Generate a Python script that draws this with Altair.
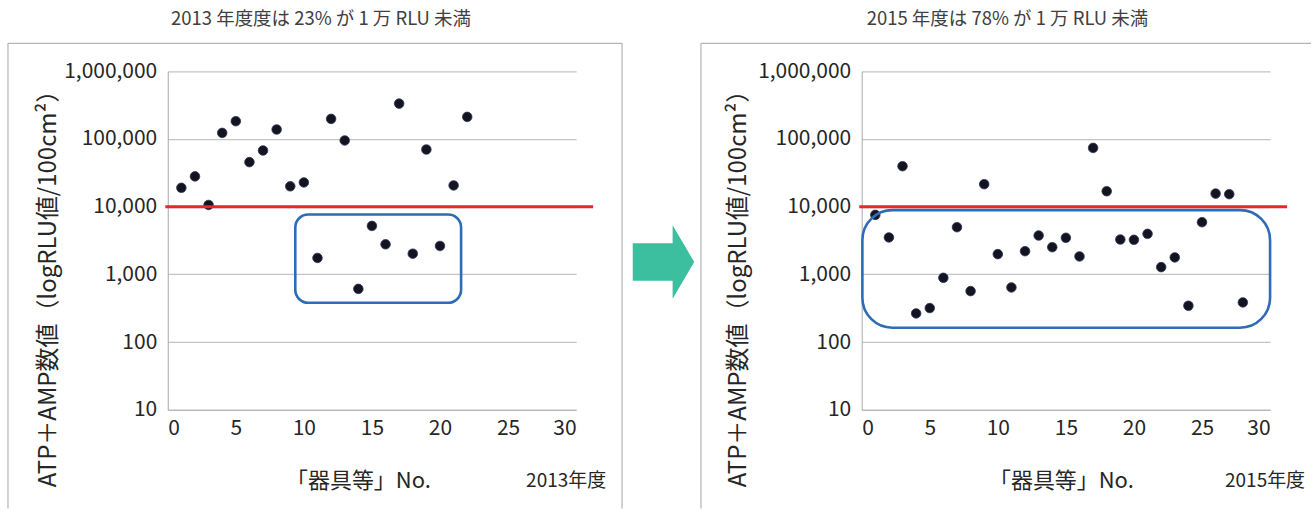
import altair as alt
import pandas as pd

# ATP+AMP readings (RLU / 100 cm2) per utensil number, FY2013 and FY2015
no_2013 = list(range(1, 23))
rlu_2013 = [19000, 28000, 10600, 123000, 183000, 45500, 67600, 138000, 20000, 22800,
            1750, 198000, 95000, 610, 5200, 2780, 333000, 2020, 69900, 2630,
            20600, 212000]

no_2015 = list(range(1, 29))
rlu_2015 = [7570, 3510, 39600, 265, 318, 890, 4980, 566, 21500, 1990,
            641, 2200, 3750, 2520, 3470, 1840, 73800, 16900, 3270, 3240,
            3970, 1280, 1780, 344, 5900, 15600, 15300, 385]

# highlighted groups: [x_start, x_end, rlu_low, rlu_high]
box_2013 = [9.37, 21.55, 380, 7670]
box_2015 = [0.05, 30.0, 163, 8880]

threshold = 10000
x_ticks = [0, 5, 10, 15, 20, 25, 30]
y_ticks = [10, 100, 1000, 10000, 100000, 1000000]

header_2013 = "2013 年度度は 23% が 1 万 RLU 未満"
header_2015 = "2015 年度は 78% が 1 万 RLU 未満"
y_title = "ATP＋AMP数値（logRLU値/100cm²）"
x_title = "「器具等」No."

FONT = "Noto Sans CJK JP"
PLOT_W, PLOT_H = 409, 339
GRID = "#c4c4c4"
FRAME = "#b4b4b4"

x_scale = alt.Scale(domain=[0, 30], nice=False, zero=False)
y_scale = alt.Scale(type="log", domain=[10, 1000000], nice=False)

one = pd.DataFrame({"k": [0]})


def txt(text, x, y, size, color="#262626", angle=0):
    return alt.Chart(one).mark_text(
        text=text, font=FONT, fontSize=size, color=color, angle=angle,
        align="center", baseline="middle"
    ).encode(x=alt.value(x), y=alt.value(y))


def vline(x, y1, y2, color=FRAME, width=1.2):
    return alt.Chart(one).mark_rule(color=color, strokeWidth=width).encode(
        x=alt.value(x), y=alt.value(y1), y2=alt.value(y2))


def hline(x1, x2, y, color=FRAME, width=1.2):
    return alt.Chart(one).mark_rule(color=color, strokeWidth=width).encode(
        x=alt.value(x1), x2=alt.value(x2), y=alt.value(y))


def panel(no, rlu, box, radius, header, year, hx, tx, yx, xx):
    pts = pd.DataFrame({"no": no, "rlu": rlu})
    scatter = alt.Chart(pts).mark_circle(
        size=92, color="#141420", opacity=1, stroke="#2c3658", strokeWidth=0.8
    ).encode(
        x=alt.X("no:Q", scale=x_scale, axis=alt.Axis(
            values=x_ticks, title=None, grid=False, ticks=False,
            domainColor="#b0b0b0", labelPadding=8,
            labelFont=FONT, labelFontSize=21, labelColor="#262626")),
        y=alt.Y("rlu:Q", scale=y_scale, axis=alt.Axis(
            values=y_ticks, format=",", title=None, grid=True, gridColor=GRID,
            gridWidth=1.2, ticks=False, domainColor="#a8a8a8", labelPadding=11,
            labelFont=FONT, labelFontSize=21, labelColor="#262626")),
    )

    bx = pd.DataFrame({"x1": [box[0]], "x2": [box[1]], "y1": [box[2]], "y2": [box[3]]})
    frame_box = alt.Chart(bx).mark_rect(
        fillOpacity=0, stroke="#2e6cb6", strokeWidth=2.6, cornerRadius=radius
    ).encode(
        x=alt.X("x1:Q", scale=x_scale), x2="x2:Q",
        y=alt.Y("y1:Q", scale=y_scale), y2="y2:Q",
    )

    ln = pd.DataFrame({"x1": [-0.18], "x2": [31.25], "v": [threshold]})
    red = alt.Chart(ln).mark_rule(color="#e8262b", strokeWidth=3).encode(
        x=alt.X("x1:Q", scale=x_scale), x2="x2:Q",
        y=alt.Y("v:Q", scale=y_scale),
    )

    texts = [
        txt(header, hx, -52, 18.5, color="#404040"),
        txt(y_title, yx, 212, 24, angle=270),
        txt(x_title, xx, 410, 22),
        txt(year, tx, 410, 19),
    ]
    return [scatter, frame_box, red] + texts


# left panel: plot area starts at canvas (167, 70)
# an invisible sheet spanning the page keeps the layout anchored at (0, 0)
sheet = alt.Chart(one).mark_rect(color="white", opacity=0).encode(
    x=alt.value(-167), x2=alt.value(1147), y=alt.value(-70), y2=alt.value(440))
left_frame = [
    hline(-160, 455, -28),
    vline(-160, -28, 438),
    vline(455, -28, 438),
]
# arrow between the two panels
arrow = alt.Chart(one).mark_point(
    shape="M-0.836,-0.51 L0.248,-0.51 L0.248,-1 L0.836,0 L0.248,1 L0.248,0.51 L-0.836,0.51 Z",
    size=5430, filled=True, color="#3bbf9f", opacity=1, strokeWidth=0
).encode(x=alt.value(496.5), y=alt.value(191))

left = alt.layer(
    sheet, *left_frame, arrow,
    *panel(no_2013, rlu_2013, box_2013, 13, header_2013, "2013年度",
           hx=153.5, tx=399, yx=-119, xx=191)
).properties(width=PLOT_W, height=PLOT_H)

# right panel: plot area starts at canvas (862, 70)
right_frame = [
    hline(-161, 450, -28),
    vline(-161, -28, 438),
]
right = alt.layer(
    *right_frame,
    *panel(no_2015, rlu_2015, box_2015, 30, header_2015, "2015年度",
           hx=146, tx=404, yx=-123, xx=200)
).properties(width=PLOT_W, height=PLOT_H)

chart = alt.hconcat(left, right, spacing=286, bounds="flush").properties(
    padding=0
).configure_view(stroke="transparent")

chart.save("out.html", embed_options={"renderer": "svg", "actions": False})
